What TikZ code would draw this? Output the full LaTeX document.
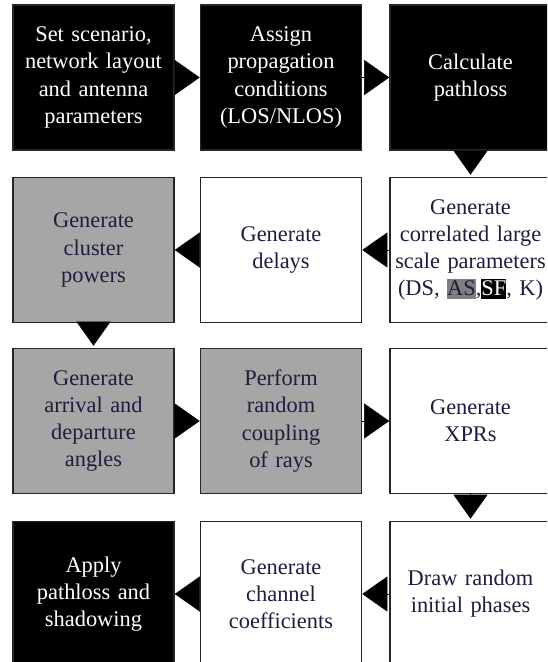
\documentclass[tikz,border=0pt]{standalone}
\usepackage{fontspec}
\setmainfont{Liberation Serif}
\usepackage{xcolor}
\usepackage{tikz}
\usetikzlibrary{arrows.meta}

\definecolor{ink}{RGB}{27,31,60}
\definecolor{boxgray}{RGB}{166,166,166}
\definecolor{markgray}{RGB}{127,127,127}
\newcommand{\markup}[3]{{\setlength{\fboxsep}{0pt}\colorbox{#1}{\rule[-1.5pt]{0pt}{10pt}\textcolor{#2}{#3}}}}

\begin{document}
\begin{tikzpicture}[x=0.5pt, y=-0.5pt,
    box/.style={draw=black!85, line width=0.8pt, minimum width=80.5pt, minimum height=72.5pt,
        inner sep=0pt, text width=78pt, align=center, font=\fontsize{11.2}{13.6}\selectfont},
    blackbox/.style={box, fill=black, text=white},
    whitebox/.style={box, fill=white, text=ink},
    graybox/.style={box, fill=boxgray, text=ink},
    flow/.style={-{Triangle[length=12.5pt, width=17.5pt]}, line width=0.2pt},
    drop/.style={-{Triangle[length=12pt, width=17pt]}, line width=0.2pt, shorten >=1pt}]
    \useasboundingbox (0,0) rectangle (547,662);
    \clip (0,0) rectangle (547,662);

    \node (scen) at (93.5,77.5) [blackbox] {Set scenario,\\ network layout\\ and antenna\\ parameters};
    \node (prop) at (281,77.5) [blackbox] {Assign\\ propagation\\ conditions\\ (LOS/NLOS)};
    \node (ploss) at (470.5,77.5) [blackbox] {Calculate\\ pathloss};

    \node (power) at (93.5,250) [graybox] {Generate\\ cluster\\ powers};
    \node (delay) at (281,250) [whitebox] {Generate\\ delays};
    \node (lsp) at (470.5,250) [whitebox] {Generate\\ correlated large\\ scale parameters\\
        (DS, \markup{markgray}{ink}{AS},\markup{black}{white}{SF}, K)};

    \node (angle) at (93.5,421) [graybox] {Generate\\ arrival and\\ departure\\ angles};
    \node (couple) at (281,421) [graybox] {Perform\\ random\\ coupling\\ of rays};
    \node (xpr) at (470.5,421) [whitebox] {Generate\\ XPRs};

    \node (apply) at (93.5,594) [blackbox] {Apply\\ pathloss and\\ shadowing};
    \node (coef) at (281,594) [whitebox] {Generate\\ channel\\ coefficients};
    \node (phase) at (470.5,594) [whitebox] {Draw random\\ initial phases};

    \draw[flow] (scen) -- (prop);
    \draw[flow] (prop) -- (ploss);
    \draw[drop] (ploss) -- (lsp);
    \draw[flow] (lsp) -- (delay);
    \draw[flow] (delay) -- (power);
    \draw[drop] (power) -- (angle);
    \draw[flow] (angle) -- (couple);
    \draw[flow] (couple) -- (xpr);
    \draw[drop] (xpr) -- (phase);
    \draw[flow] (phase) -- (coef);
    \draw[flow] (coef) -- (apply);
\end{tikzpicture}
\end{document}
